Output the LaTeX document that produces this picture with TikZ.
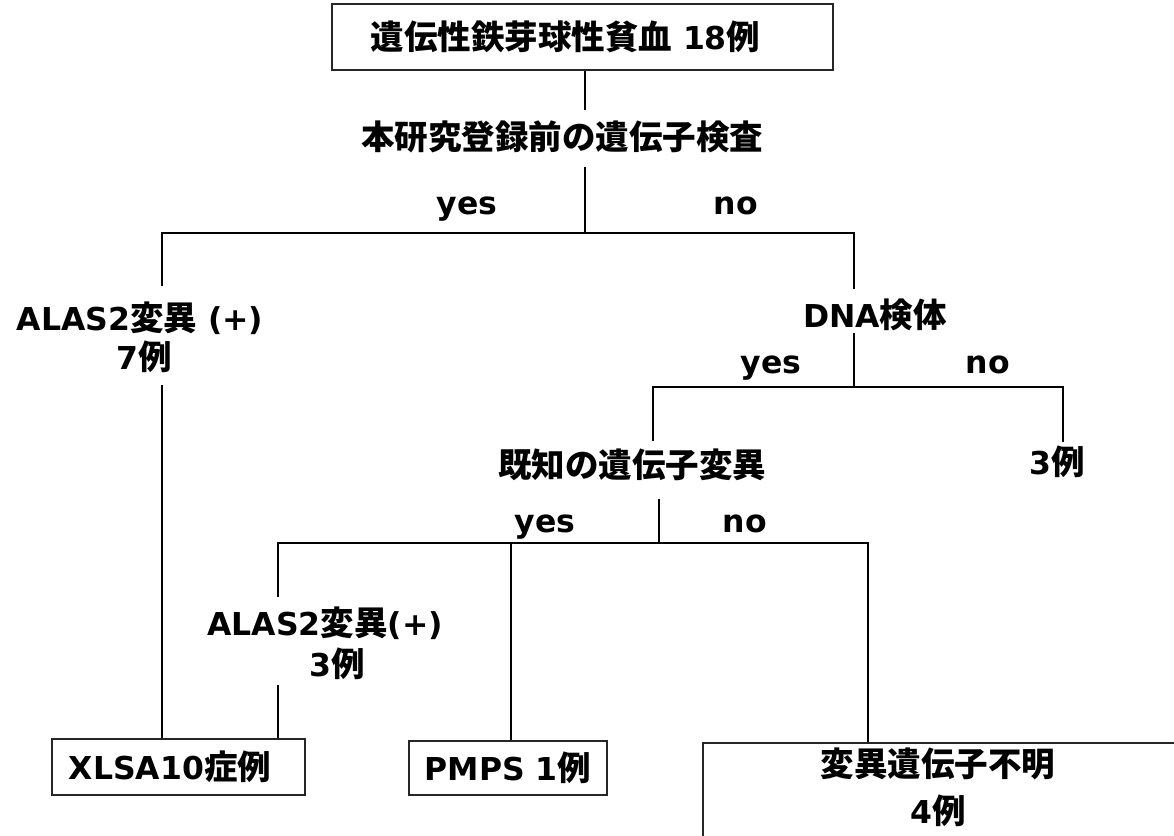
\documentclass[tikz,border=0pt]{standalone}
\usepackage{fontspec}
\setmainfont{DejaVu Sans}
\newfontfamily\jp{Noto Sans CJK JP}[Scale=1.0635, BoldFont={Noto Sans CJK JP Black}]
\newcommand\J[1]{{\jp #1}}
\begin{document}
\begin{tikzpicture}[x=1pt,y=-1pt,
  font=\bfseries\fontsize{31.5}{39}\selectfont,
  line width=1.8pt,
  txt/.style={inner sep=0pt, align=center},
  yn/.style={inner sep=0pt, anchor=base},
  box/.style={draw=black!85, line width=2pt, inner sep=0pt, fill=white}]
\clip (0,0) rectangle (1174,835);
\fill[white] (0,0) rectangle (1174,835);

% boxes
\node[box, minimum width=501pt, minimum height=66pt] (title) at (582.5,37)
  {\kern-34pt\J{遺伝性鉄芽球性貧血} 18\J{例}};
\node[box, minimum width=253pt, minimum height=56pt] (xlsa) at (178.5,767)
  {\kern-17pt XLSA10\J{症例}};
\node[box, minimum width=198pt, minimum height=54pt] (pmps) at (508,768)
  {PMPS 1\J{例}};
\node[box, minimum width=500pt, minimum height=120pt, anchor=north west] (unk) at (702,742) {};
\node[txt, font=\bfseries\fontsize{31.5}{47}\selectfont] (unktxt) at (938,787.5)
  {\J{変異遺伝子不明}\\4\J{例}};

% texts
\node[txt] (t1) at (562,137) {\J{本研究登録前の遺伝子検査}};
\node[yn] (yes1) at (467,214) {yes};
\node[yn] (no1) at (736,214) {no};
\node[txt] (alas7) at (140,337.5) {ALAS2\J{変異} (+)\\\hspace*{9pt}7\J{例}};
\node[txt] (dna) at (875,315) {DNA\J{検体}};
\node[yn] (yes2) at (771,373) {yes};
\node[yn] (no2) at (988,373) {no};
\node[txt] (known) at (632,465) {\J{既知の遺伝子変異}};
\node[txt] (n3) at (1057,462) {3\J{例}};
\node[yn] (yes3) at (545,532) {yes};
\node[yn] (no3) at (745,532) {no};
\node[txt, font=\bfseries\fontsize{31.5}{41}\selectfont] (alas3) at (325,643.5)
  {ALAS2\J{変異}(+)\\\hspace*{25pt}3\J{例}};

% connector points
\coordinate (t1a) at (585,110);
\coordinate (t1b) at (585,167);
\coordinate (j1) at (585,233);
\coordinate (j1l) at (162,233);
\coordinate (j1r) at (854,233);
\coordinate (a7a) at (162,286);
\coordinate (a7b) at (162,385);
\coordinate (dnaa) at (854,289);
\coordinate (dnab) at (854,333);
\coordinate (j2) at (854,387);
\coordinate (j2l) at (653,387);
\coordinate (j2r) at (1063,387);
\coordinate (knowna) at (653,441);
\coordinate (n3a) at (1063,442);
\coordinate (knownb) at (659,499);
\coordinate (j3) at (659,543);
\coordinate (j3l) at (278,543);
\coordinate (j3m) at (511,543);
\coordinate (j3r) at (868,543);
\coordinate (a3a) at (278,597);
\coordinate (a3b) at (278,685);

% connectors
\draw (title.south -| j1) -- (t1a);
\draw (t1b) -- (j1);
\draw (a7a) -- (j1l) -- (j1r) -- (dnaa);
\draw (a7b) -- (a7b |- xlsa.north);
\draw (dnab) -- (j2);
\draw (knowna) -- (j2l) -- (j2r) -- (n3a);
\draw (knownb) -- (j3);
\draw (a3a) -- (j3l) -- (j3r) -- (j3r |- unk.north);
\draw (j3m) -- (j3m |- pmps.north);
\draw (a3b) -- (a3b |- xlsa.north);
\end{tikzpicture}
\end{document}
